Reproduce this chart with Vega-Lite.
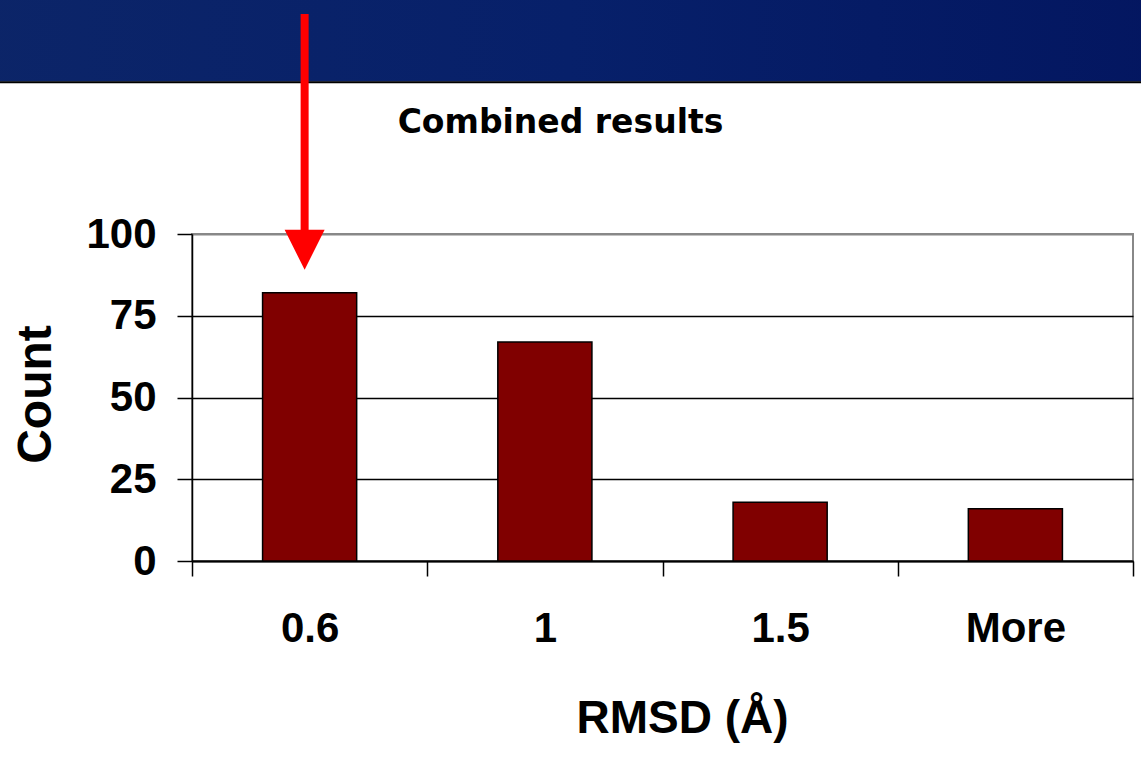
{
  "$schema": "https://vega.github.io/schema/vega-lite/v6.json",
  "width": 941,
  "height": 327,
  "autosize": {"type": "none"},
  "padding": {"left": 192, "top": 234, "right": 8, "bottom": 209},
  "background": "white",
  "config": {
    "font": "Liberation Sans",
    "view": {"stroke": "#888888", "strokeWidth": 2}
  },
  "datasets": {
    "bins": [
      {"bin": "0.6", "count": 82},
      {"bin": "1", "count": 67},
      {"bin": "1.5", "count": 18},
      {"bin": "More", "count": 16}
    ],
    "pointer": [
      {"bin": "0.6", "top": 167.3, "bottom": 100.6, "head": 95.2}
    ],
    "banner": [
      {"left": -0.25, "right": 1.05, "top": 172, "bottom": 146.6, "edge": 146.4}
    ]
  },
  "title": {
    "text": "Combined results",
    "font": "DejaVu Sans",
    "fontSize": 33,
    "fontWeight": "bold",
    "color": "black",
    "anchor": "middle",
    "frame": "group",
    "dx": -102,
    "baseline": "alphabetic",
    "offset": -167
  },
  "layer": [
    {
      "data": {"name": "banner"},
      "layer": [
        {
          "mark": {
            "type": "rect",
            "color": {
              "gradient": "linear",
              "x1": 0, "y1": 0, "x2": 1, "y2": 0,
              "stops": [
                {"offset": 0, "color": "#0c2568"},
                {"offset": 0.5, "color": "#07206a"},
                {"offset": 1, "color": "#031660"}
              ]
            }
          },
          "encoding": {
            "x": {"field": "left", "type": "quantitative", "scale": {"domain": [0, 1], "nice": false, "zero": false}, "axis": null},
            "x2": {"field": "right"},
            "y": {"field": "top", "type": "quantitative", "scale": {"domain": [0, 100], "nice": false}},
            "y2": {"field": "bottom"}
          }
        },
        {
          "mark": {"type": "rule", "color": "black", "strokeWidth": 2},
          "encoding": {
            "x": {"field": "left", "type": "quantitative", "scale": {"domain": [0, 1], "nice": false, "zero": false}, "axis": null},
            "x2": {"field": "right"},
            "y": {"field": "edge", "type": "quantitative", "scale": {"domain": [0, 100], "nice": false}}
          }
        }
      ]
    },
    {
      "layer": [
        {
          "data": {"name": "bins"},
          "mark": {"type": "bar", "color": "#800000", "stroke": "black", "strokeWidth": 1.5, "width": {"band": 0.4}},
          "encoding": {
            "x": {
              "field": "bin",
              "type": "nominal",
              "sort": null,
              "scale": {"paddingInner": 0, "paddingOuter": 0},
              "axis": {
                "title": "RMSD (Å)",
                "titleFontSize": 46,
                "titleFontWeight": "bold",
                "titleColor": "black",
                "titleX": 490,
                "titleY": 171,
                "titleBaseline": "alphabetic",
                "titleAlign": "center",
                "labelAngle": 0,
                "labelFontSize": 42,
                "labelFontWeight": "bold",
                "labelColor": "black",
                "labelPadding": 32,
                "tickSize": 15,
                "tickBand": "extent",
                "tickColor": "black",
                "tickWidth": 1.5,
                "domainColor": "black",
                "domainWidth": 2,
                "grid": false
              }
            },
            "y": {
              "field": "count",
              "type": "quantitative",
              "scale": {"domain": [0, 100], "nice": false},
              "axis": {
                "values": [0, 25, 50, 75, 100],
                "title": "Count",
                "titleFontSize": 48,
                "titleFontWeight": "bold",
                "titleColor": "black",
                "titleAngle": 270,
                "titleX": -142,
                "titleY": 160,
                "titleAlign": "center",
                "titleBaseline": "alphabetic",
                "labelFontSize": 42,
                "labelFontWeight": "bold",
                "labelColor": "black",
                "labelPadding": 21,
                "tickSize": 15,
                "tickColor": "black",
                "tickWidth": 1.5,
                "domainColor": "black",
                "domainWidth": 1.5,
                "grid": true,
                "gridColor": {"condition": {"test": "datum.value === 100", "value": "#888888"}, "value": "black"},
                "gridWidth": {"condition": {"test": "datum.value === 100", "value": 2}, "value": 1.5}
              }
            }
          }
        },
        {
          "data": {"name": "pointer"},
          "mark": {"type": "rule", "color": "#ff0000", "strokeWidth": 8, "xOffset": -5},
          "encoding": {
            "x": {"field": "bin", "type": "nominal", "sort": null},
            "y": {"field": "top", "type": "quantitative", "scale": {"domain": [0, 100], "nice": false}},
            "y2": {"field": "bottom"}
          }
        },
        {
          "data": {"name": "pointer"},
          "mark": {"type": "point", "shape": "M-1,-1L1,-1L0,1Z", "filled": true, "color": "#ff0000", "opacity": 1, "size": 1600, "strokeWidth": 0, "xOffset": -5},
          "encoding": {
            "x": {"field": "bin", "type": "nominal", "sort": null},
            "y": {"field": "head", "type": "quantitative", "scale": {"domain": [0, 100], "nice": false}}
          }
        }
      ]
    }
  ],
  "resolve": {"scale": {"x": "independent"}}
}
